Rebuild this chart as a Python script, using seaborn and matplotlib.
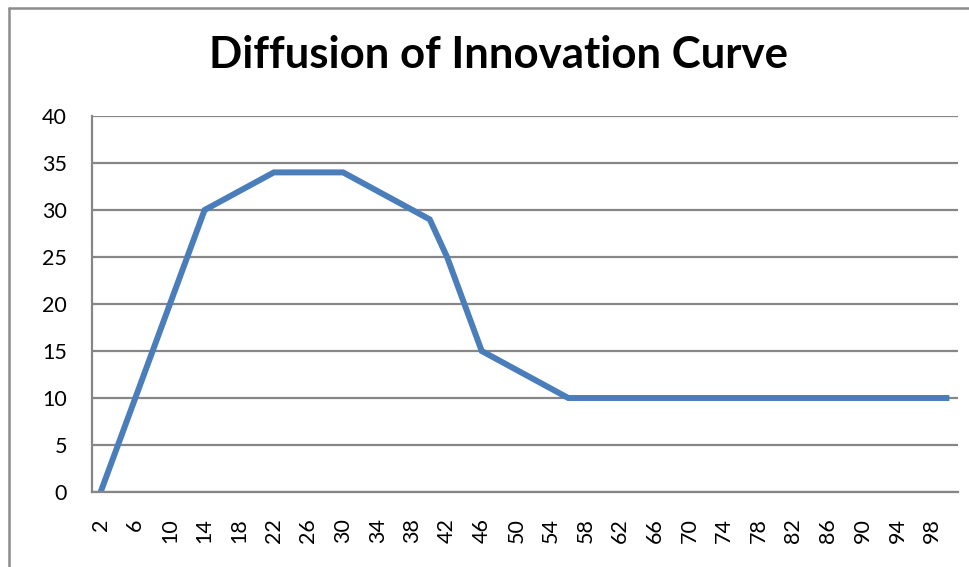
import matplotlib
matplotlib.use("Agg")
import matplotlib.pyplot as plt
from matplotlib.lines import Line2D
from matplotlib.ticker import FixedLocator
import seaborn as sns
import pandas as pd

# categories 2, 4, ... 100
periods = list(range(2, 101, 2))
adopters = [0, 5, 10, 15, 20, 25, 30, 31, 32, 33,
            34, 34, 34, 34, 34, 33, 32, 31, 30, 29,
            25, 20, 15, 14, 13, 12, 11, 10, 10, 10,
            10, 10, 10, 10, 10, 10, 10, 10, 10, 10,
            10, 10, 10, 10, 10, 10, 10, 10, 10, 10]
x_labels = list(range(2, 99, 4))
y_ticks = list(range(0, 41, 5))

TITLE = "Diffusion of Innovation Curve"
BLUE = "#4A7EBB"
GRID = "#868686"

sns.set_style("white")
plt.rcParams['font.family'] = ['Lato', 'DejaVu Sans']

W, H = 970, 567
fig = plt.figure(figsize=(W / 100, H / 100), dpi=100)
ax = fig.add_axes([92 / W, 1 - 492 / H, (958 - 92) / W, (492 - 116) / H])

df = pd.DataFrame({"period": periods, "adopters": adopters})
sns.lineplot(data=df, x="period", y="adopters", ax=ax, color=BLUE,
             linewidth=4.3, solid_joinstyle="miter", solid_capstyle="butt")

ax.set_xlim(1, 101)
ax.set_ylim(0, 40)
ax.set_xlabel("")
ax.set_ylabel("")

# y axis + gridlines
ax.set_yticks(y_ticks)
ax.set_yticklabels([str(v) for v in y_ticks], fontsize=15.5, color="black")
ax.yaxis.grid(True, color=GRID, linewidth=1.6)
ax.tick_params(axis="y", length=6, width=1.6, color=GRID, pad=12)

# x: tick marks between categories, labels on every other one
ax.set_xticks(x_labels)
ax.set_xticklabels([str(v) for v in x_labels], rotation=90, fontsize=15.5,
                   va="top", color="black")
ax.tick_params(axis="x", which="major", length=0, pad=19)
ax.xaxis.set_minor_locator(FixedLocator(list(range(1, 102, 2))))
ax.tick_params(axis="x", which="minor", length=5.5, width=1.6, color=GRID,
               direction="out")

for side in ["top", "right"]:
    ax.spines[side].set_visible(False)
for side in ["left", "bottom"]:
    ax.spines[side].set_color(GRID)
    ax.spines[side].set_linewidth(1.6)
ax.set_axisbelow(True)

fig.text(499 / W, 1 - 55 / H, TITLE, ha="center", va="center",
         fontsize=31.5, fontweight="bold", color="black")

# chart frame (left and top edges visible in crop)
fig.add_artist(Line2D([9 / W, 9 / W], [0, 1 - 8 / H], color="#8c8c8c",
                      linewidth=1.8, transform=fig.transFigure))
fig.add_artist(Line2D([9 / W, 1], [1 - 8 / H, 1 - 8 / H], color="#8c8c8c",
                      linewidth=1.8, transform=fig.transFigure))

fig.savefig("out.png", dpi=100)
